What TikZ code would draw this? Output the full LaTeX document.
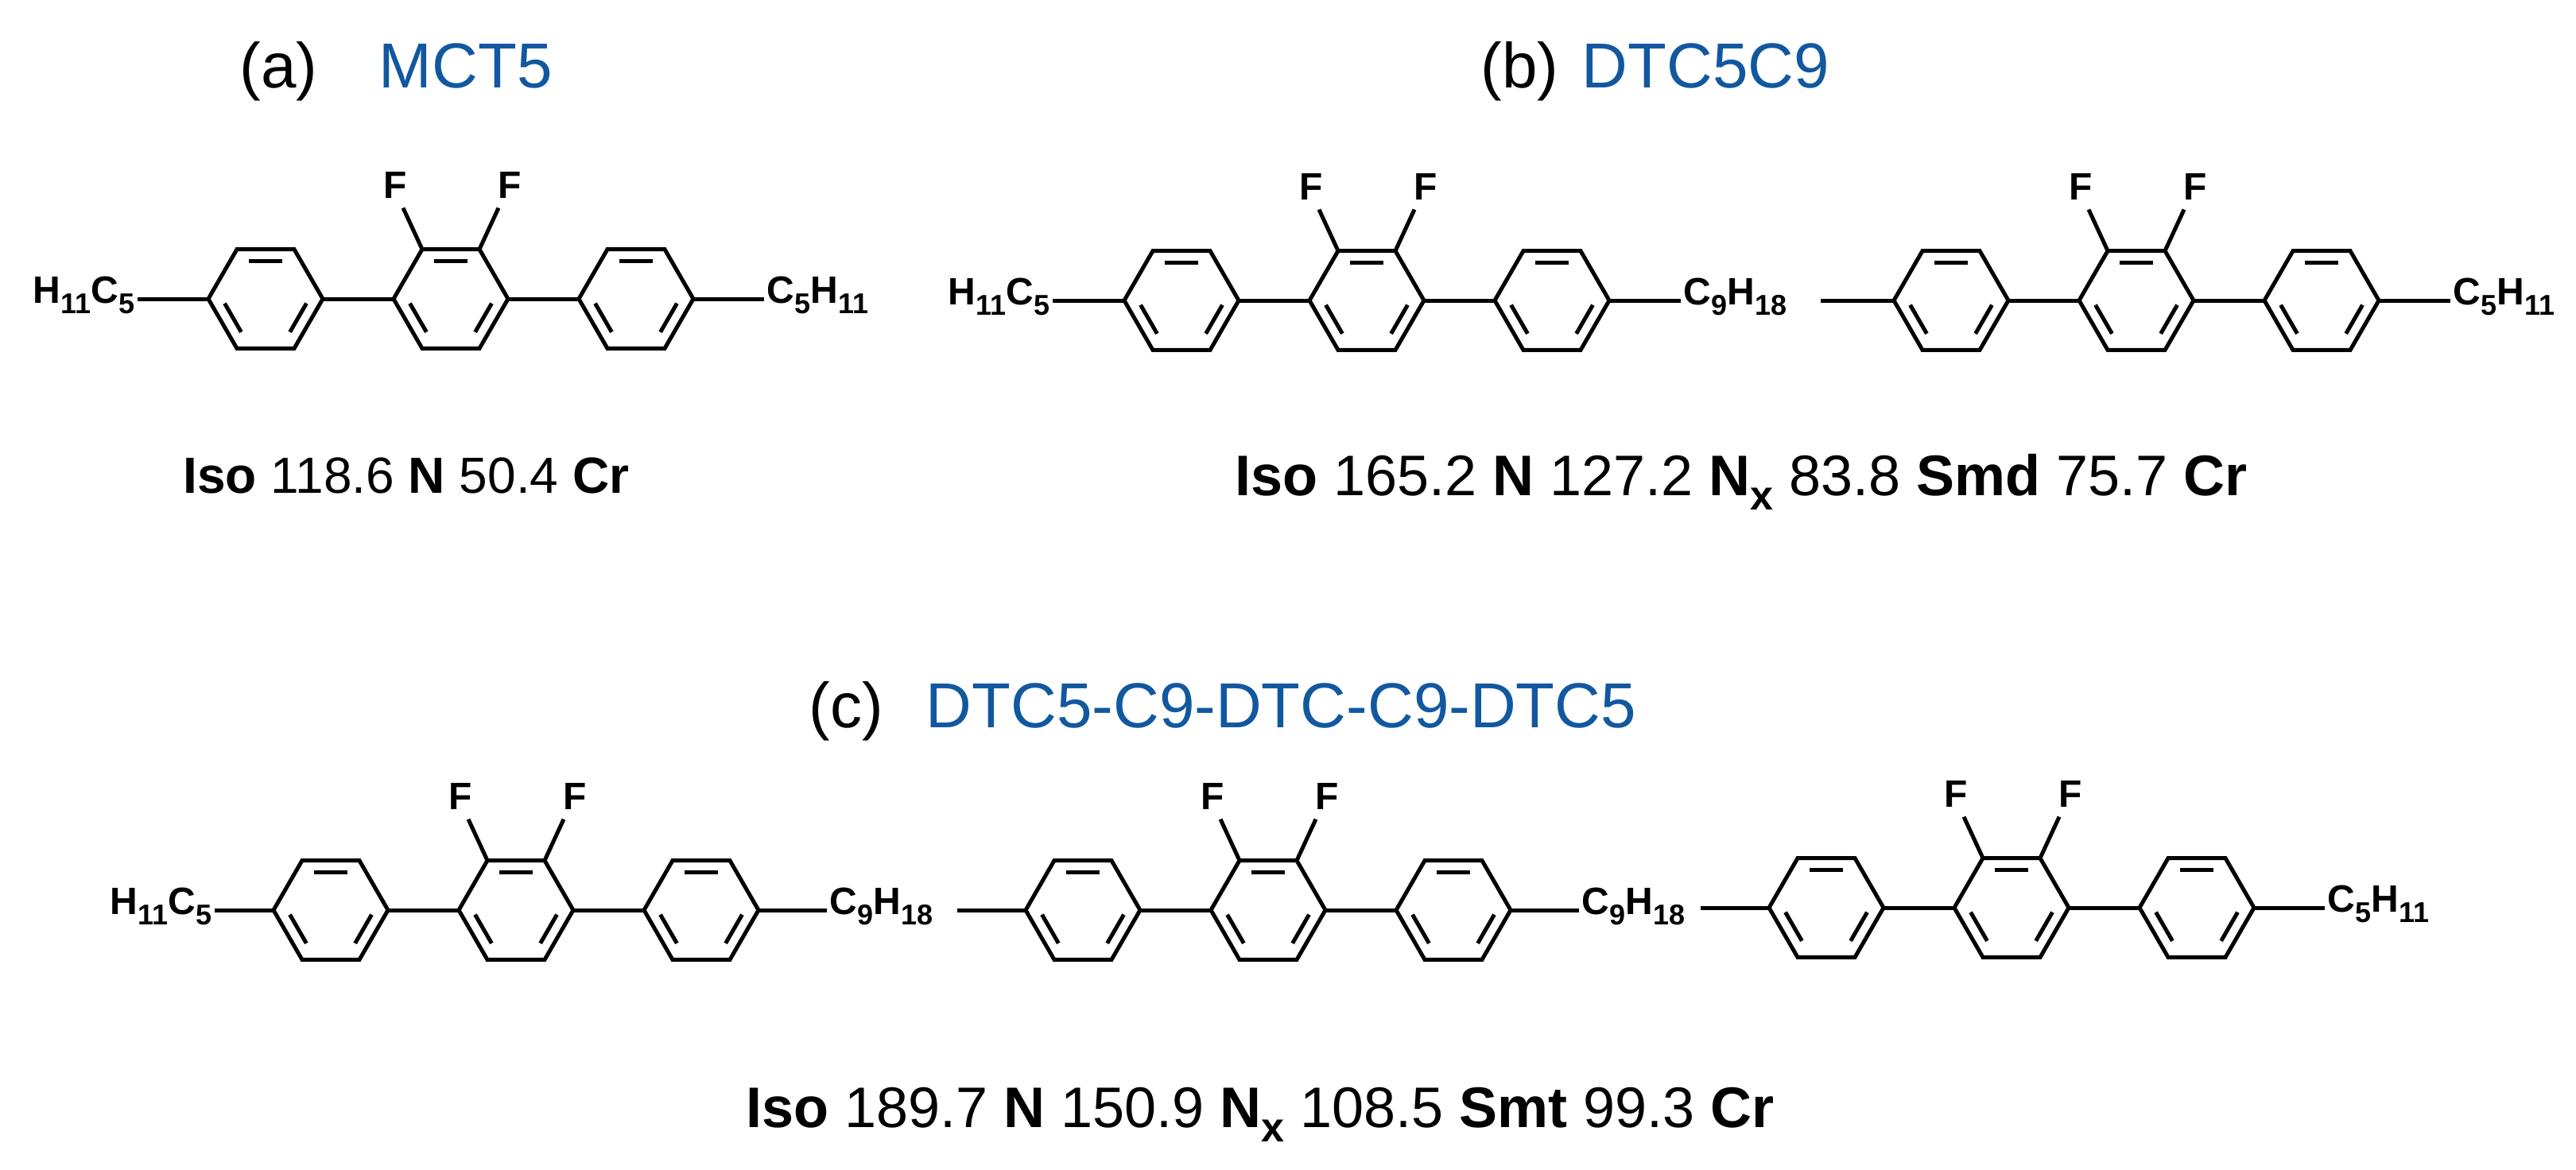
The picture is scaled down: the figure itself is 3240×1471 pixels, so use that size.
\documentclass[tikz,border=0pt]{standalone}
\usepackage{fontspec}
\setmainfont{Liberation Sans}
\usetikzlibrary{calc}
\definecolor{tblue}{RGB}{18,88,160}
\newcommand\sbs[1]{\raisebox{-0.28em}{\fontsize{9}{9}\selectfont #1}}
\newcommand\hexring[3]{%
  \coordinate (#1) at (#2,#3);
  \coordinate (#1-0) at ($(#1)+(72,0)$);
  \coordinate (#1-1) at ($(#1)+(36,-62.4)$);
  \coordinate (#1-2) at ($(#1)+(-36,-62.4)$);
  \coordinate (#1-3) at ($(#1)+(-72,0)$);
  \coordinate (#1-4) at ($(#1)+(-36,62.4)$);
  \coordinate (#1-5) at ($(#1)+(36,62.4)$);
  \draw[bond] (#1-0)--(#1-1)--(#1-2)--(#1-3)--(#1-4)--(#1-5)--cycle;
  \foreach \i in {0,...,5}{\coordinate (#1-\i i) at ($(#1)!0.76!(#1-\i)$);}
  \foreach \p/\q in {1/2,3/4,5/0}{\draw[bond] ($(#1-\p i)!0.12!(#1-\q i)$)--($(#1-\q i)!0.12!(#1-\p i)$);}
}
\newcommand\fluoro[1]{%
  \coordinate (#1-fa) at ($(#1-2)+(-24,-52)$);
  \coordinate (#1-fb) at ($(#1-1)+(24,-52)$);
  \draw[bond] (#1-2)--(#1-fa);
  \draw[bond] (#1-1)--(#1-fb);
  \node[sub,anchor=base] (#1-F1) at ($(#1-fa)+(-10,-12)$) {F};
  \node[sub,anchor=base] (#1-F2) at ($(#1-fb)+(14,-12)$) {F};
}
\newcommand\triad[3]{%
  \hexring{#1A}{#2}{#3}
  \hexring{#1B}{#2+233}{#3}\fluoro{#1B}
  \hexring{#1C}{#2+466}{#3}
  \draw[bond] (#1A-0)--(#1B-3);
  \draw[bond] (#1B-0)--(#1C-3);
}
\tikzset{
  bond/.style={line width=1.25pt,line cap=butt,line join=miter},
  sub/.style={font=\fontsize{12}{12}\selectfont\bfseries,inner sep=0pt},
  ttl/.style={font=\fontsize{20}{20}\selectfont,inner sep=0pt,anchor=base west},
  phase/.style={font=\fontsize{18}{18}\selectfont,inner sep=0pt,anchor=base},
}
\newcommand\Nx{\textbf{N\raisebox{-0.25em}{\fontsize{13}{13}\selectfont x}}}
\begin{document}
\begin{tikzpicture}[x=0.25pt,y=-0.25pt]
\useasboundingbox (0,0) rectangle (3240,1471);
\node[ttl] (ta) at (301,110) {(a)};
\node[ttl,text=tblue] (na) at (476,110) {MCT5};
\node[ttl] (tb) at (1862,110) {(b)};
\node[ttl,text=tblue] (nb) at (1989,110) {DTC5C9};
\node[ttl] (tc) at (1017,915) {(c)};
\node[ttl,text=tblue] (nc) at (1164,915) {DTC5-C9-DTC-C9-DTC5};
% (a)
\triad{a}{334}{376}
\coordinate (aL) at ($(aA-3)+(-89,0)$);
\coordinate (aR) at ($(aC-0)+(89,0)$);
\draw[bond] (aA-3)--(aL); \draw[bond] (aC-0)--(aR);
\node[sub,anchor=base east] (aLt) at ($(aL)+(-3,5)$) {H\sbs{11}C\sbs{5}};
\node[sub,anchor=base west] (aRt) at ($(aR)+(3,5)$) {C\sbs{5}H\sbs{11}};
% (b)
\triad{b}{1486}{378}
\triad{bb}{2454}{378}
\coordinate (bL) at ($(bA-3)+(-90,0)$);
\coordinate (bM1) at ($(bC-0)+(90,0)$);
\coordinate (bM2) at ($(bbA-3)+(-92,0)$);
\coordinate (bR) at ($(bbC-0)+(90,0)$);
\draw[bond] (bA-3)--(bL); \draw[bond] (bC-0)--(bM1);
\draw[bond] (bbA-3)--(bM2); \draw[bond] (bbC-0)--(bR);
\node[sub,anchor=base east] (bLt) at ($(bL)+(-3,5)$) {H\sbs{11}C\sbs{5}};
\node[sub,anchor=base west] (bMt) at ($(bM1)+(3,5)$) {C\sbs{9}H\sbs{18}};
\node[sub,anchor=base west] (bRt) at ($(bR)+(3,5)$) {C\sbs{5}H\sbs{11}};
% (c)
\triad{c}{416}{1145}
\triad{cc}{1362}{1145}
\triad{ccc}{2297}{1142}
\coordinate (cL) at ($(cA-3)+(-74,0)$);
\coordinate (cM1) at ($(cC-0)+(86,0)$);
\coordinate (cM2) at ($(ccA-3)+(-86,0)$);
\coordinate (cM3) at ($(ccC-0)+(86,0)$);
\coordinate (cM4) at ($(cccA-3)+(-86,0)$);
\coordinate (cR) at ($(cccC-0)+(89,0)$);
\draw[bond] (cA-3)--(cL);
\draw[bond] (cC-0)--(cM1); \draw[bond] (ccA-3)--(cM2);
\draw[bond] (ccC-0)--(cM3); \draw[bond] (cccA-3)--(cM4);
\draw[bond] (cccC-0)--(cR);
\node[sub,anchor=base east] (cLt) at ($(cL)+(-3,5)$) {H\sbs{11}C\sbs{5}};
\node[sub,anchor=base west] (cMt1) at ($(cM1)+(3,5)$) {C\sbs{9}H\sbs{18}};
\node[sub,anchor=base west] (cMt2) at ($(cM3)+(3,5)$) {C\sbs{9}H\sbs{18}};
\node[sub,anchor=base west] (cRt) at ($(cR)+(3,5)$) {C\sbs{5}H\sbs{11}};
% phases
\node[phase,font=\fontsize{16}{16}\selectfont] (pa) at (511,620) {\textbf{Iso} 118.6 \textbf{N} 50.4 \textbf{Cr}};
\node[phase] (pb) at (2190,623) {\textbf{Iso} 165.2 \textbf{N} 127.2 \Nx{} 83.8 \textbf{Smd} 75.7 \textbf{Cr}};
\node[phase] (pc) at (1585,1418) {\textbf{Iso} 189.7 \textbf{N} 150.9 \Nx{} 108.5 \textbf{Smt} 99.3 \textbf{Cr}};
\end{tikzpicture}
\end{document}
